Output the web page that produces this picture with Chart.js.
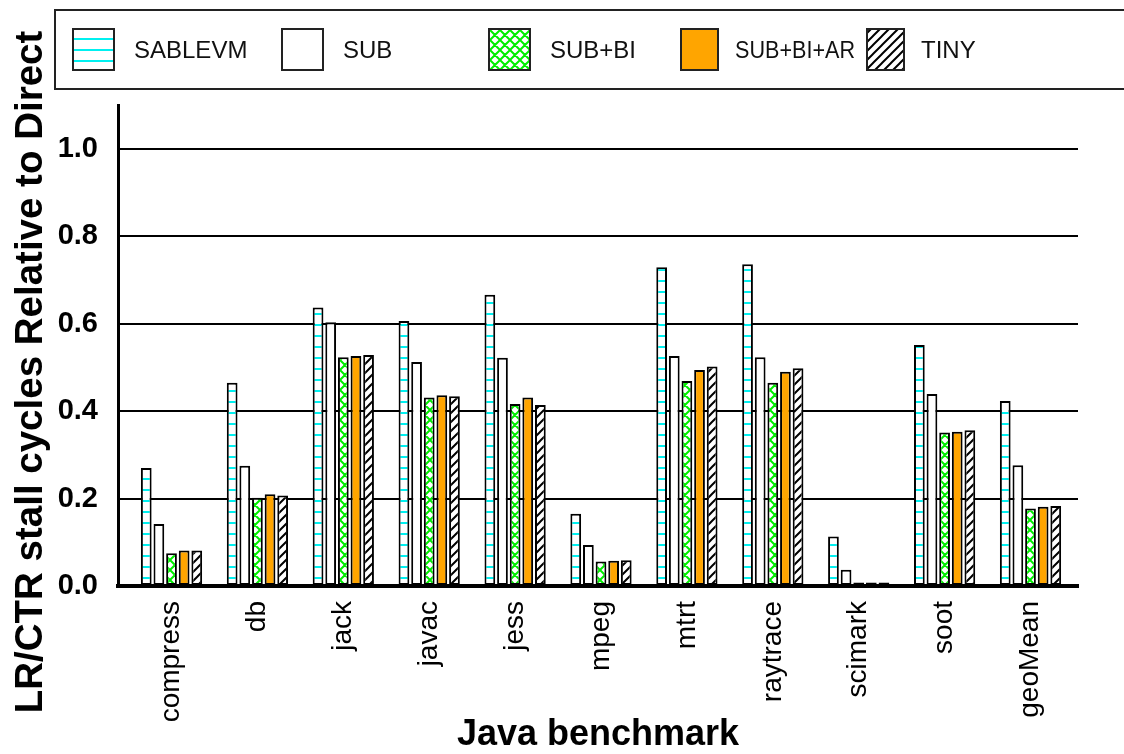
<!DOCTYPE html>
<html>
<head>
<meta charset="utf-8">
<script src="https://cdn.jsdelivr.net/npm/chart.js@4/dist/chart.umd.min.js"></script>
<style>
    body { margin: 0; background: #fff; }
    #caixa { width: 1124px; height: 754px; }
</style>
</head>
<body>
<div id="caixa"><canvas id="grafico" width="1124" height="754"></canvas></div>
<script>
// dados
var benchmarks = ['compress', 'db', 'jack', 'javac', 'jess', 'mpeg', 'mtrt', 'raytrace', 'scimark', 'soot', 'geoMean'];
var series = ['SABLEVM', 'SUB', 'SUB+BI', 'SUB+BI+AR', 'TINY'];
var sablevm = [0.270, 0.465, 0.637, 0.606, 0.666, 0.165, 0.729, 0.736, 0.113, 0.551, 0.423];
var sub = [0.142, 0.275, 0.603, 0.512, 0.522, 0.094, 0.526, 0.523, 0.037, 0.439, 0.276];
var subBi = [0.075, 0.202, 0.523, 0.431, 0.416, 0.056, 0.469, 0.465, 0.008, 0.351, 0.177];
var subBiAr = [0.081, 0.210, 0.526, 0.436, 0.431, 0.058, 0.494, 0.490, 0.008, 0.353, 0.181];
var tiny = [0.081, 0.207, 0.528, 0.434, 0.414, 0.059, 0.502, 0.498, 0.008, 0.356, 0.183];
var ticksY = [0, 0.2, 0.4, 0.6, 0.8, 1.0];

var canvas = document.getElementById('grafico');
var ctx = canvas.getContext('2d');

// padrões de preenchimento das barras
function padrao(tipo) {
    var s = tipo == 'linhas' ? 11 : (tipo == 'xadrez' ? 10 : 9);
    var c = document.createElement('canvas');
    c.width = s; c.height = s;
    var g = c.getContext('2d');
    g.fillStyle = '#fff';
    g.fillRect(0, 0, s, s);
    g.lineWidth = 2;
    if (tipo == 'linhas') {
        g.fillStyle = '#00f0f0';
        g.fillRect(0, 5, s, 2);
        return ctx.createPattern(c, 'repeat');
    }
    g.strokeStyle = tipo == 'xadrez' ? '#00ee00' : '#000';
    g.beginPath();
    g.moveTo(-1, s + 1); g.lineTo(s + 1, -1);
    g.moveTo(-1, 1); g.lineTo(1, -1);
    g.moveTo(s - 1, s + 1); g.lineTo(s + 1, s - 1);
    if (tipo == 'xadrez') {
        g.moveTo(-1, -1); g.lineTo(s + 1, s + 1);
        g.moveTo(s - 1, -1); g.lineTo(s + 1, 1);
        g.moveTo(-1, s - 1); g.lineTo(1, s + 1);
    }
    g.stroke();
    return ctx.createPattern(c, 'repeat');
}

var cores = [padrao('linhas'), '#ffffff', padrao('xadrez'), '#ffa500', padrao('diagonal')];
var valores = [sablevm, sub, subBi, subBiAr, tiny];

var datasets = series.map(function (nome, k) {
    return {
        label: nome,
        data: valores[k].map(function (v, i) { return { x: i, y: v }; }),
        backgroundColor: cores[k],
        borderColor: '#000',
        borderWidth: 2,
        borderSkipped: false,
        barPercentage: 0.85,
        categoryPercentage: 0.735
    };
});

// legenda e títulos desenhados à mão
var extras = {
    id: 'extras',
    afterDraw: function (chart) {
        var c = chart.ctx;
        c.save();
        c.strokeStyle = '#222';
        c.lineWidth = 2;
        c.strokeRect(55, 10, 1080, 79);

        var posX = [73, 282, 489, 681, 867];
        var larg = [41, 41, 41, 37, 37];
        c.font = '24px "Liberation Sans", Arial, sans-serif';
        c.textBaseline = 'middle';
        c.textAlign = 'left';
        chart.data.datasets.forEach(function (ds, k) {
            c.fillStyle = ds.backgroundColor;
            c.fillRect(posX[k], 29, larg[k], 41);
            c.strokeStyle = '#222';
            c.lineWidth = 2;
            c.strokeRect(posX[k], 29, larg[k], 41);
            c.fillStyle = '#111';
            var tx = posX[k] + larg[k] + (larg[k] > 40 ? 20 : 17);
            var limite = k < posX.length - 1 ? posX[k + 1] - tx - 12 : 200;
            c.fillText(ds.label, tx, 51, limite);
        });

        c.fillStyle = '#000';
        c.font = 'bold 36px "Liberation Sans", Arial, sans-serif';
        c.textAlign = 'center';
        c.textBaseline = 'alphabetic';
        c.fillText('Java benchmark', 598, 745);

        c.font = 'bold 38.5px "Liberation Sans", Arial, sans-serif';
        c.translate(42, 372);
        c.rotate(-Math.PI / 2);
        c.fillText('LR/CTR stall cycles Relative to Direct', 0, 0);
        c.restore();
    }
};

var grafico = new Chart(canvas, {
    type: 'bar',
    data: { datasets: datasets },
    options: {
        responsive: false,
        animation: false,
        devicePixelRatio: 1,
        layout: { padding: { top: 105, right: 46, bottom: 0, left: 0 } },
        plugins: { legend: { display: false }, tooltip: { enabled: false } },
        scales: {
            x: {
                type: 'linear',
                min: -0.623,
                max: 10.553,
                offset: false,
                afterBuildTicks: function (s) {
                    s.ticks = benchmarks.map(function (b, i) { return { value: i }; });
                },
                afterFit: function (s) { s.height = 754 - 586; },
                ticks: {
                    autoSkip: false,
                    minRotation: 90,
                    maxRotation: 90,
                    padding: 15,
                    color: '#000',
                    font: { size: 28, family: '"Liberation Sans", Arial, sans-serif' },
                    callback: function (v) { return benchmarks[v]; }
                },
                grid: { display: false, drawTicks: false },
                border: { color: '#000', width: 4 }
            },
            y: {
                min: 0,
                max: 1.1,
                afterBuildTicks: function (s) {
                    s.ticks = ticksY.map(function (v) { return { value: v }; });
                },
                afterFit: function (s) { s.width = 118; },
                ticks: {
                    padding: 20,
                    color: '#000',
                    font: { size: 29, weight: 'bold', family: '"Liberation Sans", Arial, sans-serif' },
                    callback: function (v) { return v.toFixed(1); }
                },
                grid: { color: '#000', lineWidth: 2, drawTicks: false },
                border: { color: '#000', width: 3 }
            }
        }
    },
    plugins: [extras]
});
</script>
</body>
</html>
